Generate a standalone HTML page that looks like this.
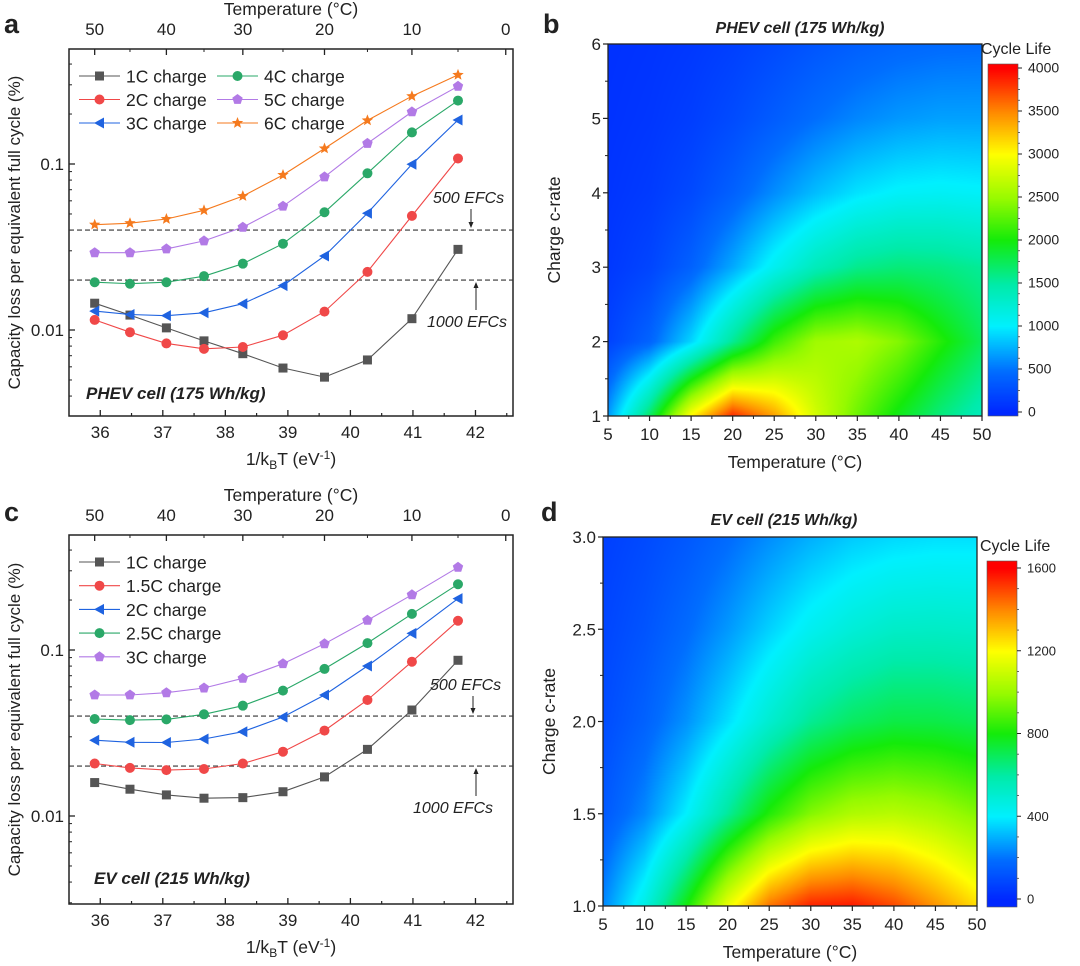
<!DOCTYPE html>
<html><head><meta charset="utf-8">
<style>
html,body{margin:0;padding:0;background:#fff;}
#root{position:relative;width:1080px;height:966px;overflow:hidden;font-family:"Liberation Sans",Arial,sans-serif;}
canvas{position:absolute;}
svg{position:absolute;left:0;top:0;}
text{font-family:"Liberation Sans",Arial,sans-serif;fill:#222;}
</style></head>
<body>
<div id="root">
<canvas id="hb" width="374" height="372" style="left:608px;top:44px"></canvas>
<canvas id="cbb" width="30" height="352" style="left:988px;top:64px"></canvas>
<canvas id="hd" width="374" height="369" style="left:603px;top:537px"></canvas>
<canvas id="cbd" width="30" height="346" style="left:987px;top:561px"></canvas>
<svg id="svg" width="1080" height="966"></svg>
</div>
<script>
// ---- Panel a data (capacity loss %, temps 50..5 C) ----
const temps = [50,45,40,35,30,25,20,15,10,5];
const aLabels = ["1C charge","2C charge","3C charge","4C charge","5C charge","6C charge"];
const a1C = [0.0145,0.0123,0.0103,0.0086,0.0072,0.0059,0.0052,0.0066,0.0117,0.0306];
const a2C = [0.0115,0.0097,0.0083,0.0077,0.0079,0.0093,0.0129,0.0224,0.0487,0.108];
const a3C = [0.0130,0.0124,0.0122,0.0127,0.0144,0.0185,0.0279,0.0505,0.0996,0.184];
const a4C = [0.0194,0.0190,0.0194,0.0211,0.0251,0.0331,0.0512,0.0879,0.155,0.241];
const a5C = [0.0292,0.0292,0.0308,0.0344,0.0416,0.0557,0.0836,0.133,0.206,0.294];
const a6C = [0.0431,0.0440,0.0466,0.0526,0.0641,0.0859,0.124,0.183,0.256,0.344];
// ---- Panel c data ----
const cLabels = ["1C charge","1.5C charge","2C charge","2.5C charge","3C charge"];
const c1C = [0.0159,0.0145,0.0134,0.0128,0.0129,0.0140,0.0172,0.0252,0.0435,0.0867];
const c15C = [0.0207,0.0195,0.0189,0.0192,0.0207,0.0244,0.0327,0.0500,0.0850,0.150];
const c2C = [0.0286,0.0278,0.0277,0.0291,0.0322,0.0395,0.0536,0.0801,0.126,0.204];
const c25C = [0.0384,0.0378,0.0382,0.0410,0.0462,0.0569,0.0769,0.110,0.165,0.249];
const c3C = [0.0536,0.0536,0.0553,0.0590,0.0675,0.0827,0.109,0.151,0.215,0.315];
const thresholds = [0.04,0.02];
const xTicks = [36,37,38,39,40,41,42];
const topTicks = [50,40,30,20,10,0];
// ---- Heatmap b (cycle life), rows = rate 1..6, cols = T 5..50 ----
const hmTemps = [5,10,15,20,25,30,35,40,45,50];
const bRates = [1,2,3,4,5,6];
const bRow1 = [654,1709,3030,3846,3390,2778,2326,1942,1626,1379];
const bRow2 = [185,411,893,1550,2151,2532,2597,2410,2062,1739];
const bRow3 = [109,201,396,717,1081,1389,1575,1639,1613,1538];
const bRow4 = [83,129,228,391,604,797,948,1031,1053,1031];
const bRow5 = [68,97,150,239,359,481,581,649,685,685];
const bRow6 = [58,78,109,161,233,312,380,429,455,464];
const bCbTicks = [0,500,1000,1500,2000,2500,3000,3500,4000];
// ---- Heatmap d ----
const dRates = [1,1.5,2,2.5,3];
const dRow1 = [231,460,794,1163,1429,1550,1563,1493,1379,1258];
const dRow2 = [133,235,400,612,820,966,1042,1058,1026,966];
const dRow3 = [98,159,250,373,506,621,687,722,719,699];
const dRow4 = [80,121,182,260,351,433,488,524,529,521];
const dRow5 = [63,93,132,183,242,296,339,362,373,373];
const dCbTicks = [0,400,800,1200,1600];
const dYTicks = [1.0,1.5,2.0,2.5,3.0];

const NS="http://www.w3.org/2000/svg";
const svg=document.getElementById('svg');
function el(tag,attrs,parent,txt){const e=document.createElementNS(NS,tag);for(const k in attrs)e.setAttribute(k,attrs[k]);if(txt!==undefined)e.textContent=txt;(parent||svg).appendChild(e);return e;}
function tx(x,y,s,size,opts,parent){opts=opts||{};const a={x:x,y:y,'font-size':size};if(opts.anchor)a['text-anchor']=opts.anchor;if(opts.weight)a['font-weight']=opts.weight;if(opts.style)a['font-style']=opts.style;if(opts.transform)a.transform=opts.transform;return el('text',a,parent,s);}
const invkT=t=>1/(8.617333e-5*(t+273.15));

function markerPath(g,type,x,y,col){
  let m;
  if(type==='sq'){m=el('rect',{x:x-4.5,y:y-4.5,width:9,height:9,fill:col},g);}
  else if(type==='ci'){m=el('circle',{cx:x,cy:y,r:5,fill:col},g);}
  else if(type==='tri'){m=el('polygon',{points:`${x-5.5},${y} ${x+4.5},${y-5.5} ${x+4.5},${y+5.5}`,fill:col},g);}
  else if(type==='pent'){let p=[];for(let i=0;i<5;i++){const a=-Math.PI/2+i*2*Math.PI/5;p.push((x+5.5*Math.cos(a)).toFixed(1)+','+(y+5.5*Math.sin(a)).toFixed(1));}m=el('polygon',{points:p.join(' '),fill:col},g);}
  else {let p=[];for(let i=0;i<10;i++){const a=-Math.PI/2+i*Math.PI/5;const r=i%2?2.6:6;p.push((x+r*Math.cos(a)).toFixed(1)+','+(y+r*Math.sin(a)).toFixed(1));}m=el('polygon',{points:p.join(' '),fill:col},g);}
  
  
}

function linePanel(cfg){
  const g=el('g',{});
  
  
  const L=69,R=513,T=cfg.top,B=cfg.bottom;
  const X=v=>L+(v-35.5)/(42.6-35.5)*(R-L);
  const y01=cfg.y01;
  const Y=v=>y01+(-1-Math.log10(v))*166;
  el('rect',{x:L,y:T,width:R-L,height:B-T,fill:'none',stroke:'#222','stroke-width':1.5},g);
  xTicks.forEach(v=>{el('line',{x1:X(v),x2:X(v),y1:B,y2:B-6,stroke:'#222','stroke-width':1.3},g);tx(X(v),B+22,String(v),17,{anchor:'middle'},g);
    if(v<42.6){el('line',{x1:X(v+0.5),x2:X(v+0.5),y1:B,y2:B-3,stroke:'#222','stroke-width':1.2},g);}});
  el('line',{x1:X(35.5),x2:X(35.5),y1:B,y2:B-3,stroke:'#222'},g);
  topTicks.forEach(t=>{const x=X(invkT(t));el('line',{x1:x,x2:x,y1:T,y2:T+6,stroke:'#222','stroke-width':1.3},g);tx(x,T-14,String(t),17,{anchor:'middle'},g);
    if(t>0){const xm=X(invkT(t-5));el('line',{x1:xm,x2:xm,y1:T,y2:T+3,stroke:'#222'},g);}});
  [0.01,0.1].forEach(v=>{el('line',{x1:L,x2:L+6,y1:Y(v),y2:Y(v),stroke:'#222','stroke-width':1.3},g);tx(L-5,Y(v)+6,String(v),17,{anchor:'end'},g);});
  [0.001,0.01,0.1].forEach(d=>{for(let k=2;k<10;k++){const v=d*k;const y=Y(v);if(y>T&&y<B)el('line',{x1:L,x2:L+3,y1:y,y2:y,stroke:'#222'},g);}});
  thresholds.forEach(v=>el('line',{x1:L,x2:R,y1:Y(v),y2:Y(v),stroke:'#333','stroke-width':1.1,'stroke-dasharray':'5,3'},g));
  cfg.series.forEach((s,si)=>{
    const pts=s.data.map((v,i)=>X(invkT(temps[i])).toFixed(1)+','+Y(v).toFixed(1)).join(' ');
    const pl=el('polyline',{points:pts,fill:'none',stroke:s.col,'stroke-width':1.1},g);
    
    
    s.data.forEach((v,i)=>markerPath(g,s.m,X(invkT(temps[i])),Y(v),s.col));
    const lx=cfg.legCols?(si<3?79:217):79, ly=cfg.legCols?cfg.legY+(si%3)*23.5:cfg.legY+si*23.7;
    el('line',{x1:lx,x2:lx+41,y1:ly,y2:ly,stroke:s.col,'stroke-width':1.1},g);
    markerPath(g,s.m,lx+20.5,ly,s.col);
    const lt=tx(lx+47,ly+6.5,s.label,17.5,{},g);
    
    
  });
  tx(cfg.t500x,cfg.t500y,'500 EFCs',16,{style:'italic'},g);
  el('line',{x1:cfg.a500x,x2:cfg.a500x,y1:cfg.t500y+6,y2:Y(0.04)-3,stroke:'#222'},g);
  el('polygon',{points:`${cfg.a500x-2.5},${Y(0.04)-8} ${cfg.a500x+2.5},${Y(0.04)-8} ${cfg.a500x},${Y(0.04)-2}`,fill:'#222'},g);
  tx(cfg.t1000x,cfg.t1000y,'1000 EFCs',16,{style:'italic'},g);
  el('line',{x1:cfg.a1000x,x2:cfg.a1000x,y1:cfg.t1000y-17,y2:Y(0.02)+3,stroke:'#222'},g);
  el('polygon',{points:`${cfg.a1000x-2.5},${Y(0.02)+8} ${cfg.a1000x+2.5},${Y(0.02)+8} ${cfg.a1000x},${Y(0.02)+2}`,fill:'#222'},g);
  tx(cfg.cellX,cfg.cellY,cfg.cell,17,{weight:'bold',style:'italic'},g);
  tx(291,T-34,'Temperature (°C)',17.5,{anchor:'middle'},g);
  const bt=el('text',{x:291,y:B+49,'font-size':17.5,'text-anchor':'middle'},g);
  bt.innerHTML='1/k<tspan font-size="12" dy="4">B</tspan><tspan dy="-4">T (eV</tspan><tspan font-size="12" dy="-6">-1</tspan><tspan dy="6">)</tspan>';
  tx(0,0,'Capacity loss per equivalent full cycle (%)',17,{anchor:'middle',transform:`translate(20,${(T+B)/2}) rotate(-90)`},g);
  tx(cfg.letterX,cfg.letterY,cfg.letter,27,{weight:'bold'},g);
}

linePanel({name:'panel-a-chart',top:49,bottom:416,y01:164,legCols:true,legY:76,
  series:[{data:a1C,col:'#555',m:'sq',label:aLabels[0]},{data:a2C,col:'#f04848',m:'ci',label:aLabels[1]},{data:a3C,col:'#1f63e0',m:'tri',label:aLabels[2]},
          {data:a4C,col:'#2aa868',m:'ci',label:aLabels[3]},{data:a5C,col:'#b27ae6',m:'pent',label:aLabels[4]},{data:a6C,col:'#f57a1e',m:'star',label:aLabels[5]}],
  t500x:433,t500y:203,a500x:471,t1000x:427,t1000y:327,a1000x:476,cell:'PHEV cell (175 Wh/kg)',cellX:86,cellY:399,letter:'a',letterX:4,letterY:33});
linePanel({name:'panel-c-chart',top:535,bottom:904,y01:650,legCols:false,legY:562,
  series:[{data:c1C,col:'#555',m:'sq',label:cLabels[0]},{data:c15C,col:'#f04848',m:'ci',label:cLabels[1]},{data:c2C,col:'#1f63e0',m:'tri',label:cLabels[2]},
          {data:c25C,col:'#2aa868',m:'ci',label:cLabels[3]},{data:c3C,col:'#b27ae6',m:'pent',label:cLabels[4]}],
  t500x:430,t500y:690,a500x:473,t1000x:413,t1000y:813,a1000x:476,cell:'EV cell (215 Wh/kg)',cellX:94,cellY:884,letter:'c',letterX:4,letterY:521});

const stops=[[0,[0,40,255]],[0.12,[0,110,255]],[0.25,[0,240,255]],[0.37,[0,235,170]],[0.5,[20,235,10]],[0.62,[150,250,0]],[0.75,[255,255,0]],[0.87,[255,140,0]],[1,[255,0,0]]];
function cmap(t){t=Math.max(0,Math.min(1,t));for(let i=1;i<stops.length;i++){if(t<=stops[i][0]){const a=stops[i-1],b=stops[i];const f=(t-a[0])/(b[0]-a[0]);return a[1].map((c,k)=>Math.round(c+(b[1][k]-c)*f));}}return stops[stops.length-1][1];}

function drawHeat(id,rows,rates,vmax){
  const cv=document.getElementById(id),ctx=cv.getContext('2d'),W=cv.width,H=cv.height;
  const img=ctx.createImageData(W,H);
  const nT=hmTemps.length,nR=rates.length;
  for(let py=0;py<H;py++){
    const r=rates[nR-1]-(py+0.5)/H*(rates[nR-1]-rates[0]);
    let ri=0;while(ri<nR-2&&r>rates[ri+1])ri++;
    const fy=(r-rates[ri])/(rates[ri+1]-rates[ri]);
    for(let px=0;px<W;px++){
      const t=hmTemps[0]+(px+0.5)/W*(hmTemps[nT-1]-hmTemps[0]);
      let ti=0;while(ti<nT-2&&t>hmTemps[ti+1])ti++;
      const fx=(t-hmTemps[ti])/(hmTemps[ti+1]-hmTemps[ti]);
      const v=(rows[ri][ti]*(1-fx)+rows[ri][ti+1]*fx)*(1-fy)+(rows[ri+1][ti]*(1-fx)+rows[ri+1][ti+1]*fx)*fy;
      const c=cmap(v/vmax);const o=(py*W+px)*4;img.data[o]=c[0];img.data[o+1]=c[1];img.data[o+2]=c[2];img.data[o+3]=255;
    }
  }
  ctx.putImageData(img,0,0);
}
function drawCb(id,pad0,pad1){
  const cv=document.getElementById(id),ctx=cv.getContext('2d');
  for(let y=0;y<cv.height;y++){const t=1-(y-pad0)/(cv.height-pad0-pad1);const c=cmap(t);ctx.fillStyle=`rgb(${c[0]},${c[1]},${c[2]})`;ctx.fillRect(0,y,cv.width,1);}
}
drawHeat('hb',[bRow1,bRow2,bRow3,bRow4,bRow5,bRow6],bRates,4000);
drawHeat('hd',[dRow1,dRow2,dRow3,dRow4,dRow5],dRates,1600);
drawCb('cbb',4,4);
drawCb('cbd',7,8);

function heatAxes(cfg){
  const g=el('g',{});
  
  
  const {L,R,T,B}=cfg;
  el('rect',{x:L,y:T,width:R-L,height:B-T,fill:'none',stroke:'#222','stroke-width':1.3},g);
  const X=t=>L+(t-5)/45*(R-L);
  const Y=r=>B-(r-cfg.ymin)/(cfg.ymax-cfg.ymin)*(B-T);
  for(let t=5;t<=50;t+=5){el('line',{x1:X(t),x2:X(t),y1:B,y2:B+5,stroke:'#222','stroke-width':1.2},g);tx(X(t),B+24,String(t),17,{anchor:'middle'},g);
    if(t<50)el('line',{x1:X(t+2.5),x2:X(t+2.5),y1:B,y2:B+3,stroke:'#222'},g);}
  cfg.yt.forEach((r,i)=>{el('line',{x1:L-5,x2:L,y1:Y(r),y2:Y(r),stroke:'#222','stroke-width':1.2},g);tx(L-7,Y(r)+6,cfg.ylab[i],17,{anchor:'end'},g);
    if(i<cfg.yt.length-1){const m=(r+cfg.yt[i+1])/2;el('line',{x1:L-3,x2:L,y1:Y(m),y2:Y(m),stroke:'#222'},g);}});
  tx((L+R)/2,B+52,'Temperature (°C)',17.5,{anchor:'middle'},g);
  tx(0,0,'Charge c-rate',17.5,{anchor:'middle',transform:`translate(${cfg.ytx},${(T+B)/2}) rotate(-90)`},g);
  tx(cfg.titleX,cfg.titleY,cfg.title,16,{weight:'bold',style:'italic',anchor:'middle'},g);
  tx(cfg.letX,cfg.letY,cfg.letter,27,{weight:'bold'},g);
  const c=cfg.cb;
  el('rect',{x:c.x,y:c.y0-c.pad0,width:30,height:c.y1-c.y0+c.pad0+c.pad1,fill:'none',stroke:'#555','stroke-width':0.6},g);
  tx(c.x-7,c.y0-c.pad0-10,'Cycle Life',16,{},g);
  const CY=v=>c.y1-v/c.vmax*(c.y1-c.y0);
  c.ticks.forEach((v,i)=>{el('line',{x1:c.x+30,x2:c.x+34,y1:CY(v),y2:CY(v),stroke:'#222'},g);tx(c.x+40,CY(v)+4.5,String(v),c.fs,{},g);
    if(i<c.ticks.length-1){for(let k=1;k<c.minor;k++){const m=v+(c.ticks[i+1]-v)*k/c.minor;el('line',{x1:c.x+30,x2:c.x+32,y1:CY(m),y2:CY(m),stroke:'#444','stroke-width':0.8},g);}}});
}
heatAxes({name:'panel-b-heatmap-axes',L:608,R:982,T:44,B:416,ymin:1,ymax:6,yt:[1,2,3,4,5,6],ylab:['1','2','3','4','5','6'],ytx:560,
  titleX:800,titleY:33,title:'PHEV cell (175 Wh/kg)',letX:543,letY:33,letter:'b',
  cb:{x:988,y0:68,y1:412,pad0:4,pad1:4,vmax:4000,ticks:bCbTicks,fs:14,minor:4}});
heatAxes({name:'panel-d-heatmap-axes',L:603,R:977,T:537,B:906,ymin:1,ymax:3,yt:dYTicks,ylab:['1.0','1.5','2.0','2.5','3.0'],ytx:555,
  titleX:784,titleY:525,title:'EV cell (215 Wh/kg)',letX:541,letY:521,letter:'d',
  cb:{x:987,y0:568,y1:899,pad0:7,pad1:8,vmax:1600,ticks:dCbTicks,fs:13,minor:4}});
</script>
</body></html>
